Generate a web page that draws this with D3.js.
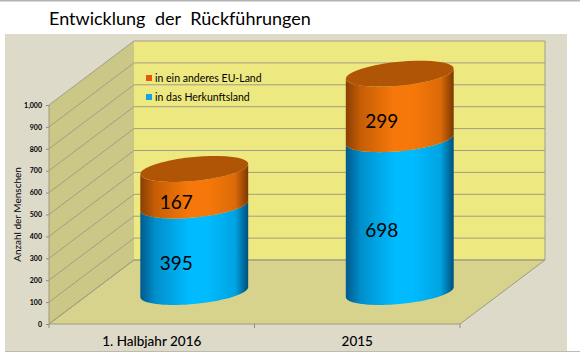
<!DOCTYPE html>
<html>
<head>
<meta charset="utf-8">
<script src="https://cdn.jsdelivr.net/npm/d3@7"></script>
<style>
  html, body { margin: 0; padding: 0; background: #fff; }
  svg { display: block; }
  text { font-family: Lato, "Open Sans", sans-serif; fill: #000; }
  .domain { display: none; }
</style>
</head>
<body>
<div id="chart"></div>
<script>
const categories = ["1. Halbjahr 2016", "2015"];
const herkunftsland = [395, 698];
const anderesLand = [167, 299];
const yTicks = [0, 100, 200, 300, 400, 500, 600, 700, 800, 900, 1000];
const legendLabels = ["in ein anderes EU-Land", "in das Herkunftsland"];

const width = 580,
      height = 357,
      margin = ({ top: 105, right: 120, bottom: 33, left: 49 }),
      depth = ({ x: 85, y: -64 }); //offset from front of the floor to the back wall

let svg = d3.select("#chart")
    .append("svg")
    .attr("width", width)
    .attr("height", height)
    .attr("viewBox", [0, 0, width, height]);

let x = d3.scaleBand()
    .domain(categories)
    .range([margin.left, width - margin.right]);

let y = d3.scaleLinear()
    .domain([0, 1000])
    .range([height - margin.bottom, margin.top]);

const x0 = x.range()[0], x1 = x.range()[1];

//horizontal gradients for the cylinders
let defs = svg.append("defs");
function cylinderGradient(id, edgeL, mid, edgeR) {
    let g = defs.append("linearGradient").attr("id", id);
    g.append("stop").attr("offset", "0%").attr("stop-color", edgeL);
    g.append("stop").attr("offset", "14%").attr("stop-color", d3.interpolateRgb(edgeL, mid)(0.55));
    g.append("stop").attr("offset", "45%").attr("stop-color", mid);
    g.append("stop").attr("offset", "62%").attr("stop-color", mid);
    g.append("stop").attr("offset", "88%").attr("stop-color", d3.interpolateRgb(edgeL, mid)(0.75));
    g.append("stop").attr("offset", "100%").attr("stop-color", edgeR);
}
cylinderGradient("blue", "#005a8c", "#00bbff", "#004f7c");
cylinderGradient("orange", "#8a3f02", "#f7780a", "#7c3700");

//top and bottom background
svg.append("rect").attr("x", 0).attr("y", 0).attr("width", width).attr("height", 1.5).attr("fill", "#b4b4b4");
svg.append("rect").attr("x", 5).attr("y", 34).attr("width", 562).attr("height", 317).attr("fill", "#dedaca");
svg.append("rect").attr("x", 5).attr("y", 351).attr("width", width - 5).attr("height", 1).attr("fill", "#bdbbae");

//title
svg.append("text")
    .attr("x", 49)
    .attr("y", 25)
    .attr("font-size", 18)
    .attr("word-spacing", 5)
    .text("Entwicklung der Rückführungen");

//back wall, side wall and floor
svg.append("path")
    .attr("fill", "#ede87f")
    .attr("d", d3.line()([[x0 + depth.x, y(1000) + depth.y], [x1 + depth.x, y(1000) + depth.y], [x1 + depth.x, y(0) + depth.y], [x0 + depth.x, y(0) + depth.y]]) + "Z");
svg.append("path")
    .attr("fill", "#cbc787")
    .attr("d", d3.line()([[x0, y(1000)], [x0 + depth.x, y(1000) + depth.y], [x0 + depth.x, y(0) + depth.y], [x0, y(0)]]) + "Z");
svg.append("path")
    .attr("fill", "#d7d38c")
    .attr("stroke", "#9c9a80")
    .attr("d", d3.line()([[x0, y(0)], [x0 + depth.x, y(0) + depth.y], [x1 + depth.x, y(0) + depth.y], [x1, y(0)]]) + "Z");

//gridlines on both walls
let grid = svg.append("g")
    .attr("fill", "none")
    .attr("stroke", "#a19e83")
    .attr("stroke-width", 1);
grid.selectAll("path")
    .data(yTicks)
    .join("path")
    .attr("d", d => d3.line()([[x0, y(d)], [x0 + depth.x, y(d) + depth.y], [x1 + depth.x, y(d) + depth.y]]));
grid.append("path")
    .attr("d", d3.line()([[x1 + depth.x, y(1000) + depth.y], [x1 + depth.x, y(0) + depth.y]]));

//y axis
svg.append("g")
    .attr("transform", `translate(${x0},0)`)
    .call(d3.axisLeft(y).tickValues(yTicks).tickSize(3).tickPadding(4))
    .call(g => g.selectAll("line").attr("stroke", "#8f8d78"))
    .call(g => g.selectAll("text").attr("font-size", 7).attr("font-weight", 700));
svg.append("line")
    .attr("x1", x0).attr("x2", x0)
    .attr("y1", y(1000)).attr("y2", y(0))
    .attr("stroke", "#9c9a80");

//x axis: labels at band centres, tick marks at band edges
svg.append("g")
    .attr("transform", `translate(0,${y(0)})`)
    .call(d3.axisBottom(x).tickSize(0).tickPadding(12))
    .call(g => g.selectAll("text").attr("font-size", 13.5).attr("font-weight", 500));
svg.append("g")
    .selectAll("line")
    .data([x0, x0 + x.step(), x1])
    .join("line")
    .attr("x1", d => d).attr("x2", d => d)
    .attr("y1", y(0)).attr("y2", y(0) + 4)
    .attr("stroke", "#8f8d78");

//y axis title
svg.append("text")
    .attr("transform", `translate(21,${(y(0) + y(1000)) / 2}) rotate(-90)`)
    .attr("text-anchor", "middle")
    .attr("font-size", 10)
    .text("Anzahl der Menschen");

//cylinders: a sheared circle seen from above, drawn from the scales
const radius = x.bandwidth() * 0.2625,
      tilt = ({ skew: 5, minor: 12 });

function ringPoint(cx, cy, t) {
    return [cx + radius * Math.cos(t), cy - tilt.skew * Math.cos(t) + tilt.minor * Math.sin(t)];
}
function frontArc(cx, cy, from, to) {
    return d3.range(0, 41).map(i => ringPoint(cx, cy, from + (to - from) * i / 40));
}
function bodyPath(cx, yBottom, yTop) {
    const lower = frontArc(cx, yBottom, 0, Math.PI);
    const upper = frontArc(cx, yTop, Math.PI, 0);
    return d3.line()(upper.concat(lower)) + "Z";
}

let bars = svg.selectAll(".bar")
    .data(categories)
    .join("g")
    .attr("class", "bar");

bars.each(function (cat, i) {
    const g = d3.select(this),
          cx = x(cat) + x.bandwidth() / 2 + depth.x / 2,
          a = herkunftsland[i],
          b = anderesLand[i],
          yAt = v => y(v) + depth.y / 2;

    g.append("path").attr("fill", "url(#blue)").attr("d", bodyPath(cx, yAt(0), yAt(a)));
    g.append("path").attr("fill", "url(#orange)").attr("d", bodyPath(cx, yAt(a), yAt(a + b)));
    g.append("path").attr("fill", "#b05406")
        .attr("d", d3.line()(frontArc(cx, yAt(a + b), 0, 2 * Math.PI)) + "Z");

    //value labels sit on the front of the cylinder
    g.selectAll(".val")
        .data([[a, yAt(a / 2)], [b, yAt(a + b / 2)]])
        .join("text")
        .attr("class", "val")
        .attr("x", cx - 18)
        .attr("y", d => d[1] + 15)
        .attr("dy", "0.35em")
        .attr("text-anchor", "middle")
        .attr("font-size", 19)
        .text(d => d[0]);
});

//legend
let legendColor = d3.scaleOrdinal().domain(legendLabels).range(["#e2590f", "#0ea5ec"]);
let legendY = d3.scalePoint().domain(legendLabels).range([78, 97]);
let legend = svg.selectAll(".legend")
    .data(legendLabels)
    .join("g")
    .attr("class", "legend");
legend.append("rect")
    .attr("x", 146)
    .attr("y", d => legendY(d) - 3)
    .attr("width", 6)
    .attr("height", 6)
    .attr("fill", d => legendColor(d));
legend.append("text")
    .attr("x", 155)
    .attr("y", d => legendY(d))
    .attr("dy", "0.35em")
    .attr("font-size", 10.5)
    .text(d => d);
</script>
</body>
</html>
